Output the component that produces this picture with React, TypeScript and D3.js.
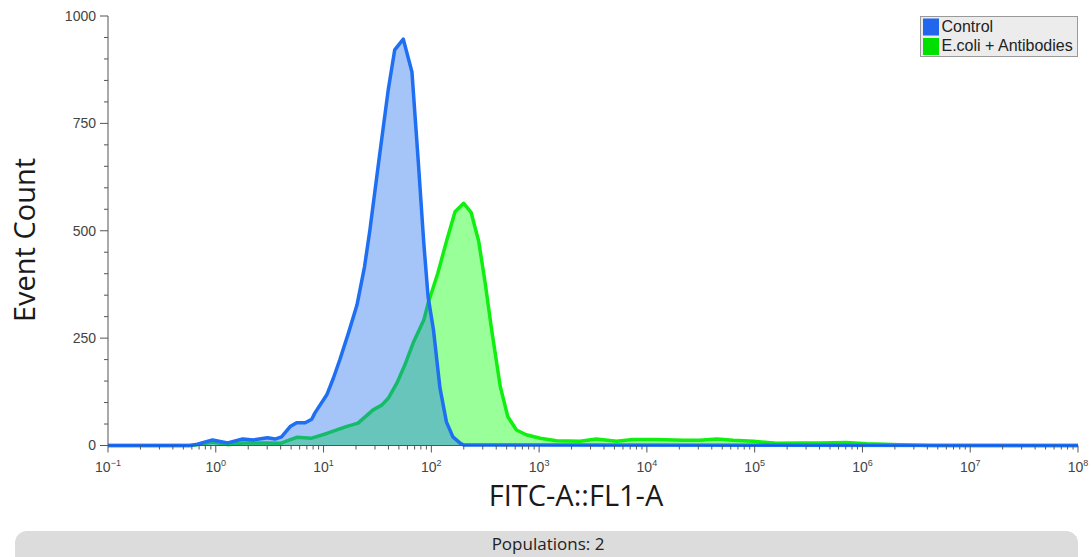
import React from "react";
import * as d3 from "d3";

// decade exponents (log10 of FITC-A::FL1-A) and event counts
const controlLogFL1 = [-1, -0.24, -0.17, -0.03, 0.11, 0.25, 0.35, 0.48, 0.55, 0.61, 0.69, 0.75, 0.83, 0.89, 0.92, 1.03, 1.09, 1.15, 1.23, 1.31, 1.38, 1.43, 1.51, 1.6, 1.66, 1.74, 1.82, 1.88, 1.93, 1.97, 2.02, 2.08, 2.14, 2.2, 2.27, 2.3, 8];
const controlCounts = [0, 0, 3, 13, 6, 15, 13, 18, 15, 20, 44, 53, 53, 61, 76, 118, 156, 199, 261, 327, 416, 502, 657, 828, 921, 946, 870, 657, 471, 346, 269, 134, 55, 20, 5, 1, 0];

const ecoliLogFL1 = [-1, -0.24, -0.17, -0.03, 0.11, 0.25, 0.48, 0.6, 0.75, 0.89, 1.03, 1.21, 1.32, 1.46, 1.54, 1.6, 1.68, 1.76, 1.83, 1.93, 1.97, 2.06, 2.14, 2.22, 2.3, 2.37, 2.44, 2.5, 2.56, 2.64, 2.71, 2.79, 2.88, 3.01, 3.16, 3.38, 3.53, 3.72, 3.87, 4.09, 4.34, 4.49, 4.65, 4.8, 4.99, 5.2, 5.42, 5.61, 5.85, 6.04, 6.35, 6.63, 8];
const ecoliCounts = [0, 0, 2, 8, 2, 6, 6, 5, 19, 17, 28, 44, 52, 83, 94, 110, 145, 191, 238, 292, 331, 401, 475, 544, 564, 542, 475, 378, 269, 137, 67, 36, 25, 17, 11, 10, 15, 10, 14, 14, 12, 12, 15, 12, 10, 5, 6, 6, 7, 4, 2, 0, 0];

const xTickExponents = [-1, 0, 1, 2, 3, 4, 5, 6, 7, 8];
const supLabels = ["\u22121", "0", "1", "2", "3", "4", "5", "6", "7", "8"];
const yTickLabels = [0, 250, 500, 750, 1000];
const seriesNames = ["Control", "E.coli + Antibodies"];

const W = 1092;
const H = 557;

export default function App() {
  const x = d3.scaleLog().domain([0.1, 1e8]).range([108, 1078]);
  const y = d3.scaleLinear().domain([0, 1000]).range([445.5, 16]);

  const ctrl = controlLogFL1.map((e, i) => ({ v: Math.pow(10, e), c: controlCounts[i] }));
  const ecoli = ecoliLogFL1.map((e, i) => ({ v: Math.pow(10, e), c: ecoliCounts[i] }));

  const area = d3
    .area<{ v: number; c: number }>()
    .x((d) => x(d.v))
    .y0(y(0))
    .y1((d) => y(d.c));
  const line = d3
    .line<{ v: number; c: number }>()
    .x((d) => x(d.v))
    .y((d) => y(d.c));

  const minor: number[] = [];
  for (let e = -1; e < 8; e++) {
    for (let k = 2; k <= 9; k++) minor.push(k * Math.pow(10, e));
  }
  const yMinor = d3.range(0, 1001, 50);

  const axisColor = "#555";
  const tickFont = "'Liberation Sans', Arial, sans-serif";
  const titleFont = "'Open Sans', 'Noto Sans', sans-serif";
  const x0 = x(0.1);
  const yBase = y(0);

  return (
    <svg
      width={W}
      height={H}
      style={{ position: "absolute", left: 0, top: 0, background: "#fff" }}
    >
      {/* series */}
      <path d={area(ecoli) || ""} fill="rgba(0,255,0,0.4)" />
      <path d={line(ecoli) || ""} fill="none" stroke="#11ee11" strokeWidth={3.5} strokeLinejoin="round" />
      <path d={area(ctrl) || ""} fill="rgba(30,110,240,0.4)" />
      <path d={line(ctrl) || ""} fill="none" stroke="#1f6ff2" strokeWidth={3.5} strokeLinejoin="round" />

      {/* y axis */}
      <line x1={x0} x2={x0} y1={y(1000)} y2={yBase} stroke={axisColor} strokeWidth={1} />
      {yMinor.map((t) => (
        <line
          key={"ym" + t}
          x1={x0 - (t % 250 === 0 ? 8 : 4)}
          x2={x0}
          y1={y(t)}
          y2={y(t)}
          stroke={axisColor}
          strokeWidth={1}
        />
      ))}
      {yTickLabels.map((t) => (
        <text
          key={"yl" + t}
          x={x0 - 12}
          y={y(t)}
          dy="0.35em"
          textAnchor="end"
          fontFamily={tickFont}
          fontSize={14}
          fill="#444"
        >
          {t}
        </text>
      ))}

      {/* x axis */}
      <line x1={x0} x2={x(1e8)} y1={yBase} y2={yBase} stroke={axisColor} strokeWidth={1} />
      {minor.map((t, i) => (
        <line key={"xm" + i} x1={x(t)} x2={x(t)} y1={yBase} y2={yBase + 4} stroke={axisColor} strokeWidth={1} />
      ))}
      {xTickExponents.map((e, i) => (
        <g key={"xt" + e}>
          <line x1={x(Math.pow(10, e))} x2={x(Math.pow(10, e))} y1={yBase} y2={yBase + 7} stroke={axisColor} strokeWidth={1} />
          <text
            x={x(Math.pow(10, e))}
            y={472}
            textAnchor="middle"
            fontFamily={tickFont}
            fontSize={14}
            fill="#444"
          >
            10
            <tspan fontSize={9} dy={-6}>
              {supLabels[i]}
            </tspan>
          </text>
        </g>
      ))}

      {/* axis titles */}
      <text
        x={576}
        y={506}
        textAnchor="middle"
        fontFamily={titleFont}
        fontSize={29}
        fill="#1a1a1a"
      >
        FITC-A::FL1-A
      </text>
      <text
        transform={`translate(35,240) rotate(-90)`}
        textAnchor="middle"
        fontFamily={titleFont}
        fontSize={29}
        fill="#1a1a1a"
      >
        Event Count
      </text>

      {/* legend */}
      <rect x={920.5} y={16.5} width={157} height={40} fill="#ececec" stroke="#999" strokeWidth={1} />
      <rect x={923} y={18.5} width={16} height={17} fill="#2266ee" />
      <rect x={923} y={38} width={16} height={17} fill="#00e000" />
      <text x={941.5} y={32} fontFamily={tickFont} fontSize={16} fill="#222">
        {seriesNames[0]}
      </text>
      <text x={941.5} y={51} fontFamily={tickFont} fontSize={16} fill="#222">
        {seriesNames[1]}
      </text>

      {/* populations bar */}
      <rect x={15} y={531} width={1063} height={40} rx={12} ry={12} fill="#dcdcdc" />
      <text
        x={548}
        y={550}
        textAnchor="middle"
        fontFamily={titleFont}
        fontSize={17}
        fill="#222"
      >
        Populations: 2
      </text>
    </svg>
  );
}
